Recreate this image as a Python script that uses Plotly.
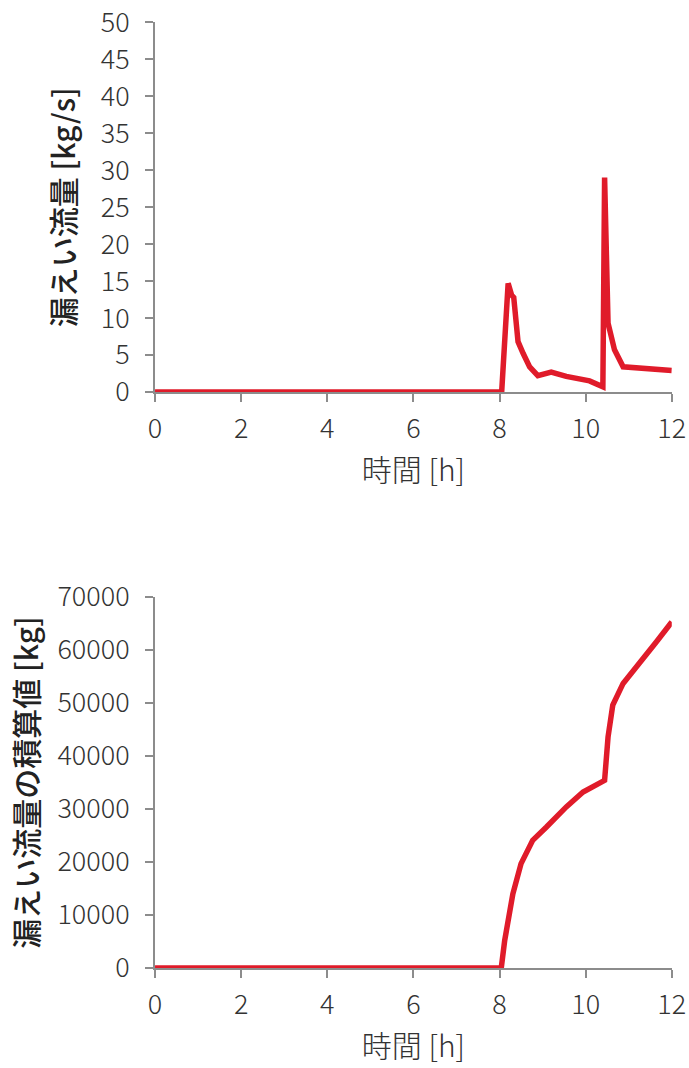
import plotly.graph_objects as go
from plotly.subplots import make_subplots

# Leak flow rate over time [kg/s]
t_rate = [0, 8.0, 8.05, 8.2, 8.28, 8.33, 8.43, 8.55, 8.7, 8.89, 9.2, 9.55, 10.09, 10.4,
          10.44, 10.52, 10.67, 10.87, 11.18, 11.56, 12.0]
rate = [0, 0, 0, 14.7, 13.1, 12.8, 6.8, 5.2, 3.4, 2.2, 2.7, 2.1, 1.5, 0.7,
        29.0, 9.3, 5.7, 3.4, 3.3, 3.0, 2.9]

# Cumulative leaked mass [kg]
t_cum = [0, 8.0, 8.04, 8.12, 8.24, 8.31, 8.5, 8.77, 9.09, 9.55, 9.94, 10.44,
         10.52, 10.63, 10.87, 11.25, 11.64, 12.0]
cum = [0, 0, 0, 5200, 10300, 14000, 19700, 24100, 26600, 30400, 33200, 35400,
       43600, 49600, 53700, 57400, 61500, 65300]

x_ticks = [0, 2, 4, 6, 8, 10, 12]

RED = "#e01b2a"
AXIS = "#8c8c8c"
FONT = "Noto Sans CJK JP"
TICKFONT = dict(family=FONT, size=27, color="#333333", weight=300)
TITLEFONT = dict(family=FONT, size=30, color="#222222", weight=500)

fig = make_subplots(rows=2, cols=1)

fig.add_trace(go.Scatter(x=t_rate, y=rate, mode="lines",
                         line=dict(color=RED, width=5.5), showlegend=False), row=1, col=1)
fig.add_trace(go.Scatter(x=t_cum, y=cum, mode="lines",
                         line=dict(color=RED, width=5.5), showlegend=False), row=2, col=1)

axis_common = dict(showline=True, linecolor=AXIS, linewidth=2, ticks="outside",
                   ticklen=8, tickwidth=2, tickcolor=AXIS, showgrid=False, zeroline=False,
                   automargin=False, tickfont=TICKFONT)

fig.update_xaxes(range=[0, 12], tickvals=x_ticks, ticklabelstandoff=4, **axis_common)
fig.update_xaxes(title=dict(text="時間 [h]", font=dict(family=FONT, size=30, color="#333333", weight=300),
                            standoff=8))

fig.update_yaxes(range=[0, 50], dtick=5, ticklabelstandoff=10, row=1, col=1, **axis_common)
fig.update_yaxes(range=[0, 70000], dtick=10000, tickformat="d", ticklabelstandoff=10,
                 row=2, col=1, **axis_common)

fig.update_yaxes(title=dict(text="漏えい流量 [kg/s]", font=TITLEFONT, standoff=16), row=1, col=1)
fig.update_yaxes(title=dict(text="漏えい流量の積算値 [kg]", font=TITLEFONT, standoff=10), row=2, col=1)

fig.update_layout(
    width=689, height=1068,
    margin=dict(l=0, r=0, t=0, b=0),
    paper_bgcolor="white", plot_bgcolor="white",
    xaxis=dict(domain=[0.225, 0.975]),
    yaxis=dict(domain=[0.633, 0.979]),
    xaxis2=dict(domain=[0.225, 0.975]),
    yaxis2=dict(domain=[0.0936, 0.441]),
)

fig.write_html("out.html")
